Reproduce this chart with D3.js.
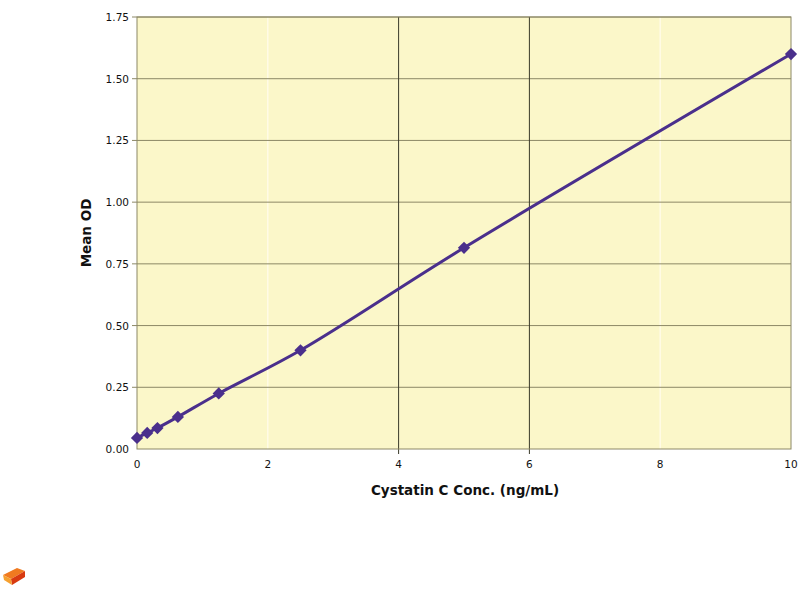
<!DOCTYPE html>
<html><head><meta charset="utf-8">
<script src="https://cdn.jsdelivr.net/npm/d3@7"></script>
<style>body{margin:0;background:#fff;}svg{display:block;font-family:"DejaVu Sans",sans-serif;}</style>
</head><body>
<svg id="c" width="800" height="600"></svg>
<script>
const conc = [0, 0.156, 0.3125, 0.625, 1.25, 2.5, 5, 10];
const meanOD = [0.045, 0.065, 0.085, 0.13, 0.225, 0.40, 0.815, 1.60];
const xTicks = [0, 2, 4, 6, 8, 10];
const yTicks = [0, 0.25, 0.5, 0.75, 1.0, 1.25, 1.5, 1.75];
const darkVLines = [4, 6];
const faintVLines = [2, 8];

const svg = d3.select("#c");
const L = 137, R = 791, T = 17, B = 449;
const x = d3.scaleLinear().domain([0, 10]).range([L, R]);
const y = d3.scaleLinear().domain([0, 1.75]).range([B, T]);

svg.append("rect").attr("x", L).attr("y", T).attr("width", R - L).attr("height", B - T).attr("fill", "#fbf7c9");

svg.selectAll(".fv").data(faintVLines).enter().append("line")
  .attr("x1", d => x(d)).attr("x2", d => x(d)).attr("y1", T).attr("y2", B)
  .attr("stroke", "#fffbe6").attr("stroke-width", 1.5);

svg.selectAll(".hg").data(yTicks.slice(1)).enter().append("line")
  .attr("x1", L - 5).attr("x2", R).attr("y1", d => y(d)).attr("y2", d => y(d))
  .attr("stroke", "#8c8866").attr("stroke-width", 1);

svg.selectAll(".dv").data(darkVLines).enter().append("line")
  .attr("x1", d => x(d)).attr("x2", d => x(d)).attr("y1", T).attr("y2", B + 5)
  .attr("stroke", "#3a3a2a").attr("stroke-width", 1);

svg.append("rect").attr("x", L).attr("y", T).attr("width", R - L).attr("height", B - T)
  .attr("fill", "none").attr("stroke", "#8c8866").attr("stroke-width", 1);

svg.selectAll(".yl").data(yTicks).enter().append("text")
  .attr("x", 129).attr("y", d => y(d) + 4).attr("text-anchor", "end")
  .attr("font-size", 10.5).attr("fill", "#111").text(d => d3.format(".2f")(d));

svg.selectAll(".xl").data(xTicks).enter().append("text")
  .attr("x", d => x(d)).attr("y", 468).attr("text-anchor", "middle")
  .attr("font-size", 10.5).attr("fill", "#111").text(d => d);

svg.append("text").attr("x", 465).attr("y", 495).attr("text-anchor", "middle")
  .attr("font-size", 13.5).attr("font-weight", "bold").attr("fill", "#111").text("Cystatin C Conc. (ng/mL)");
svg.append("text").attr("transform", "translate(91,233) rotate(-90)").attr("text-anchor", "middle")
  .attr("font-size", 13.5).attr("font-weight", "bold").attr("fill", "#111").text("Mean OD");

const pts = conc.map((c, i) => [c, meanOD[i]]);
const line = d3.line().x(d => x(d[0])).y(d => y(d[1])).curve(d3.curveCatmullRom.alpha(0.5));
svg.append("path").datum(pts).attr("d", line).attr("fill", "none")
  .attr("stroke", "#4a2f8c").attr("stroke-width", 3);

svg.selectAll(".m").data(pts).enter().append("path")
  .attr("transform", d => `translate(${x(d[0])},${y(d[1])}) rotate(45)`)
  .attr("d", d3.symbol().type(d3.symbolSquare).size(75))
  .attr("fill", "#4a2f8c");

const g = svg.append("g").attr("transform", "translate(3,566)");
g.append("polygon").attr("points", "0,9 14,2 22,5 8,13").attr("fill", "#f07a20");
g.append("polygon").attr("points", "8,13 22,5 22,11 9,19").attr("fill", "#d83a10");
g.append("polygon").attr("points", "0,9 8,13 9,19 1,14").attr("fill", "#f5a030");
</script>
</body></html>
